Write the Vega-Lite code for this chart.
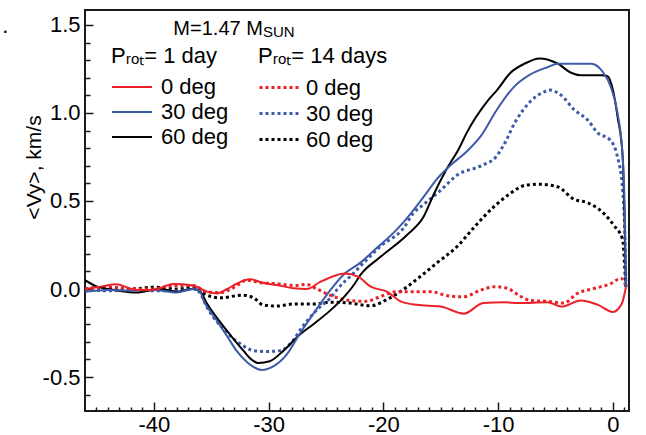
{
  "$schema": "https://vega.github.io/schema/vega-lite/v6.json",
  "width": 544,
  "height": 401,
  "autosize": "none",
  "padding": {"left": 85, "top": 10, "right": 17, "bottom": 24},
  "background": "white",
  "config": {
    "font": "Liberation Sans",
    "view": {"stroke": "#1a1a1a", "strokeWidth": 2},
    "axis": {"grid": false, "domain": false, "tickColor": "#1a1a1a", "tickWidth": 1.5, "labelColor": "#000", "labelFont": "Liberation Sans", "labelFontSize": 22, "titleFont": "Liberation Sans", "titleFontSize": 21, "titleColor": "#000", "titleFontWeight": "normal"},
    "legend": {"orient": "none", "labelFont": "Liberation Sans", "titleFont": "Liberation Sans", "labelFontSize": 22, "titleFontSize": 22, "titleFontWeight": "normal", "titleColor": "#000", "labelColor": "#000", "symbolType": "M-1,0H3", "symbolSize": 400, "rowPadding": 3, "titlePadding": 8, "padding": 0, "titleLimit": 400, "labelLimit": 300}
  },
  "datasets": {
    "solid": [
      {"a": "60 deg", "x": -46, "y": 0.05}, {"a": "60 deg", "x": -45, "y": 0.015}, {"a": "60 deg", "x": -43.5, "y": -0.005}, {"a": "60 deg", "x": -41.5, "y": -0.02}, {"a": "60 deg", "x": -39.5, "y": 0.0}, {"a": "60 deg", "x": -38, "y": -0.015}, {"a": "60 deg", "x": -36.6, "y": 0.0}, {"a": "60 deg", "x": -36, "y": -0.01}, {"a": "60 deg", "x": -35.4, "y": -0.08}, {"a": "60 deg", "x": -34.2, "y": -0.19}, {"a": "60 deg", "x": -33.1, "y": -0.28}, {"a": "60 deg", "x": -32.2, "y": -0.35}, {"a": "60 deg", "x": -31.5, "y": -0.4}, {"a": "60 deg", "x": -30.9, "y": -0.42}, {"a": "60 deg", "x": -29.9, "y": -0.41}, {"a": "60 deg", "x": -28.7, "y": -0.35}, {"a": "60 deg", "x": -27.3, "y": -0.26}, {"a": "60 deg", "x": -26.1, "y": -0.2}, {"a": "60 deg", "x": -24.6, "y": -0.12}, {"a": "60 deg", "x": -23.5, "y": -0.05}, {"a": "60 deg", "x": -22.5, "y": 0.03}, {"a": "60 deg", "x": -22.0, "y": 0.08}, {"a": "60 deg", "x": -20.3, "y": 0.18}, {"a": "60 deg", "x": -17.9, "y": 0.31}, {"a": "60 deg", "x": -16.5, "y": 0.41}, {"a": "60 deg", "x": -15.6, "y": 0.54}, {"a": "60 deg", "x": -14.5, "y": 0.68}, {"a": "60 deg", "x": -13.4, "y": 0.8}, {"a": "60 deg", "x": -12.8, "y": 0.88}, {"a": "60 deg", "x": -10.9, "y": 1.07}, {"a": "60 deg", "x": -10.1, "y": 1.13}, {"a": "60 deg", "x": -8.9, "y": 1.23}, {"a": "60 deg", "x": -7.7, "y": 1.28}, {"a": "60 deg", "x": -6.4, "y": 1.31}, {"a": "60 deg", "x": -4.8, "y": 1.28}, {"a": "60 deg", "x": -3.7, "y": 1.23}, {"a": "60 deg", "x": -2.8, "y": 1.215}, {"a": "60 deg", "x": -1.0, "y": 1.215}, {"a": "60 deg", "x": -0.5, "y": 1.21}, {"a": "60 deg", "x": 0.0, "y": 1.13}, {"a": "60 deg", "x": 0.4, "y": 0.98}, {"a": "60 deg", "x": 0.85, "y": 0.75}, {"a": "60 deg", "x": 1.05, "y": 0.28}, {"a": "60 deg", "x": 1.13, "y": 0.01},
      {"a": "30 deg", "x": -46, "y": -0.015}, {"a": "30 deg", "x": -44, "y": -0.005}, {"a": "30 deg", "x": -42, "y": -0.01}, {"a": "30 deg", "x": -40, "y": -0.005}, {"a": "30 deg", "x": -38, "y": -0.02}, {"a": "30 deg", "x": -36.6, "y": 0.0}, {"a": "30 deg", "x": -36, "y": -0.01}, {"a": "30 deg", "x": -35.7, "y": -0.06}, {"a": "30 deg", "x": -34.5, "y": -0.18}, {"a": "30 deg", "x": -33.6, "y": -0.27}, {"a": "30 deg", "x": -32.8, "y": -0.35}, {"a": "30 deg", "x": -31.8, "y": -0.42}, {"a": "30 deg", "x": -30.6, "y": -0.46}, {"a": "30 deg", "x": -29.6, "y": -0.44}, {"a": "30 deg", "x": -28.4, "y": -0.37}, {"a": "30 deg", "x": -27.25, "y": -0.25}, {"a": "30 deg", "x": -26.1, "y": -0.14}, {"a": "30 deg", "x": -24.9, "y": -0.03}, {"a": "30 deg", "x": -23.5, "y": 0.08}, {"a": "30 deg", "x": -22.0, "y": 0.15}, {"a": "30 deg", "x": -20.8, "y": 0.22}, {"a": "30 deg", "x": -18.8, "y": 0.34}, {"a": "30 deg", "x": -17.6, "y": 0.43}, {"a": "30 deg", "x": -16.3, "y": 0.54}, {"a": "30 deg", "x": -15.4, "y": 0.62}, {"a": "30 deg", "x": -14.2, "y": 0.7}, {"a": "30 deg", "x": -12.6, "y": 0.79}, {"a": "30 deg", "x": -11.5, "y": 0.87}, {"a": "30 deg", "x": -10.1, "y": 1.02}, {"a": "30 deg", "x": -8.6, "y": 1.15}, {"a": "30 deg", "x": -7.3, "y": 1.215}, {"a": "30 deg", "x": -5.7, "y": 1.26}, {"a": "30 deg", "x": -4.8, "y": 1.28}, {"a": "30 deg", "x": -3.4, "y": 1.28}, {"a": "30 deg", "x": -1.9, "y": 1.28}, {"a": "30 deg", "x": -0.9, "y": 1.235}, {"a": "30 deg", "x": -0.2, "y": 1.15}, {"a": "30 deg", "x": 0.4, "y": 1.0}, {"a": "30 deg", "x": 0.85, "y": 0.75}, {"a": "30 deg", "x": 1.05, "y": 0.37}, {"a": "30 deg", "x": 1.13, "y": 0.01},
      {"a": "0 deg", "x": -46, "y": 0.0}, {"a": "0 deg", "x": -44.5, "y": 0.015}, {"a": "0 deg", "x": -43.3, "y": 0.027}, {"a": "0 deg", "x": -41.5, "y": -0.005}, {"a": "0 deg", "x": -40.1, "y": -0.005}, {"a": "0 deg", "x": -38.3, "y": 0.028}, {"a": "0 deg", "x": -36.6, "y": 0.02}, {"a": "0 deg", "x": -35.4, "y": -0.015}, {"a": "0 deg", "x": -34.5, "y": -0.025}, {"a": "0 deg", "x": -33.6, "y": 0.0}, {"a": "0 deg", "x": -32.8, "y": 0.03}, {"a": "0 deg", "x": -31.6, "y": 0.055}, {"a": "0 deg", "x": -30.5, "y": 0.035}, {"a": "0 deg", "x": -29.3, "y": 0.023}, {"a": "0 deg", "x": -27.8, "y": 0.004}, {"a": "0 deg", "x": -26.7, "y": 0.0}, {"a": "0 deg", "x": -25.5, "y": 0.04}, {"a": "0 deg", "x": -24.3, "y": 0.074}, {"a": "0 deg", "x": -23.4, "y": 0.088}, {"a": "0 deg", "x": -22.2, "y": 0.07}, {"a": "0 deg", "x": -21.1, "y": 0.013}, {"a": "0 deg", "x": -19.7, "y": -0.015}, {"a": "0 deg", "x": -18.5, "y": -0.07}, {"a": "0 deg", "x": -17.1, "y": -0.09}, {"a": "0 deg", "x": -15.0, "y": -0.1}, {"a": "0 deg", "x": -13.0, "y": -0.14}, {"a": "0 deg", "x": -11.3, "y": -0.08}, {"a": "0 deg", "x": -9.5, "y": -0.075}, {"a": "0 deg", "x": -8.2, "y": -0.08}, {"a": "0 deg", "x": -5.7, "y": -0.075}, {"a": "0 deg", "x": -4.5, "y": -0.1}, {"a": "0 deg", "x": -2.8, "y": -0.065}, {"a": "0 deg", "x": -1.3, "y": -0.09}, {"a": "0 deg", "x": 0.0, "y": -0.13}, {"a": "0 deg", "x": 0.5, "y": -0.11}, {"a": "0 deg", "x": 0.85, "y": -0.07}, {"a": "0 deg", "x": 1.13, "y": 0.01}
    ],
    "dotted": [
      {"b": "60", "x": -46, "y": 0.0}, {"b": "60", "x": -44, "y": 0.01}, {"b": "60", "x": -42, "y": 0.0}, {"b": "60", "x": -40, "y": 0.01}, {"b": "60", "x": -38, "y": 0.0}, {"b": "60", "x": -36.5, "y": 0.01}, {"b": "60", "x": -35.7, "y": -0.025}, {"b": "60", "x": -34.2, "y": -0.05}, {"b": "60", "x": -32.3, "y": -0.035}, {"b": "60", "x": -31.3, "y": -0.05}, {"b": "60", "x": -30.5, "y": -0.09}, {"b": "60", "x": -29.3, "y": -0.097}, {"b": "60", "x": -27.8, "y": -0.085}, {"b": "60", "x": -26.0, "y": -0.085}, {"b": "60", "x": -24.6, "y": -0.075}, {"b": "60", "x": -22.9, "y": -0.08}, {"b": "60", "x": -21.1, "y": -0.095}, {"b": "60", "x": -19.7, "y": -0.06}, {"b": "60", "x": -18.2, "y": 0.0}, {"b": "60", "x": -16.8, "y": 0.07}, {"b": "60", "x": -15.3, "y": 0.15}, {"b": "60", "x": -13.6, "y": 0.24}, {"b": "60", "x": -12.1, "y": 0.35}, {"b": "60", "x": -10.5, "y": 0.46}, {"b": "60", "x": -9.0, "y": 0.54}, {"b": "60", "x": -7.6, "y": 0.59}, {"b": "60", "x": -6.3, "y": 0.595}, {"b": "60", "x": -4.8, "y": 0.58}, {"b": "60", "x": -3.4, "y": 0.51}, {"b": "60", "x": -2.2, "y": 0.49}, {"b": "60", "x": -0.8, "y": 0.43}, {"b": "60", "x": 0.1, "y": 0.36}, {"b": "60", "x": 0.85, "y": 0.28}, {"b": "60", "x": 1.05, "y": 0.1}, {"b": "60", "x": 1.13, "y": 0.01},
      {"b": "30", "x": -46, "y": 0.0}, {"b": "30", "x": -44, "y": -0.01}, {"b": "30", "x": -42, "y": 0.0}, {"b": "30", "x": -40, "y": -0.01}, {"b": "30", "x": -38, "y": -0.01}, {"b": "30", "x": -36.5, "y": 0.0}, {"b": "30", "x": -36, "y": -0.02}, {"b": "30", "x": -35.4, "y": -0.1}, {"b": "30", "x": -33.9, "y": -0.23}, {"b": "30", "x": -32.5, "y": -0.31}, {"b": "30", "x": -31.3, "y": -0.35}, {"b": "30", "x": -30.2, "y": -0.355}, {"b": "30", "x": -29.0, "y": -0.35}, {"b": "30", "x": -28.1, "y": -0.31}, {"b": "30", "x": -27.0, "y": -0.21}, {"b": "30", "x": -25.5, "y": -0.1}, {"b": "30", "x": -24.6, "y": -0.05}, {"b": "30", "x": -24.0, "y": 0.0}, {"b": "30", "x": -22.6, "y": 0.09}, {"b": "30", "x": -22.0, "y": 0.13}, {"b": "30", "x": -20.3, "y": 0.24}, {"b": "30", "x": -18.2, "y": 0.35}, {"b": "30", "x": -17.4, "y": 0.43}, {"b": "30", "x": -16.5, "y": 0.48}, {"b": "30", "x": -15.2, "y": 0.55}, {"b": "30", "x": -13.5, "y": 0.65}, {"b": "30", "x": -11.5, "y": 0.7}, {"b": "30", "x": -10.2, "y": 0.75}, {"b": "30", "x": -9.5, "y": 0.82}, {"b": "30", "x": -8.5, "y": 0.95}, {"b": "30", "x": -7.2, "y": 1.065}, {"b": "30", "x": -6.0, "y": 1.12}, {"b": "30", "x": -5.5, "y": 1.13}, {"b": "30", "x": -4.5, "y": 1.1}, {"b": "30", "x": -3.4, "y": 1.02}, {"b": "30", "x": -2.2, "y": 0.96}, {"b": "30", "x": -1.3, "y": 0.885}, {"b": "30", "x": -0.3, "y": 0.85}, {"b": "30", "x": 0.4, "y": 0.75}, {"b": "30", "x": 0.85, "y": 0.56}, {"b": "30", "x": 1.05, "y": 0.28}, {"b": "30", "x": 1.13, "y": 0.01},
      {"b": "0", "x": -46, "y": 0.0}, {"b": "0", "x": -44, "y": 0.01}, {"b": "0", "x": -42, "y": 0.0}, {"b": "0", "x": -40, "y": 0.0}, {"b": "0", "x": -38.3, "y": 0.02}, {"b": "0", "x": -36.6, "y": 0.02}, {"b": "0", "x": -35.4, "y": -0.015}, {"b": "0", "x": -34.2, "y": -0.02}, {"b": "0", "x": -33.1, "y": 0.006}, {"b": "0", "x": -31.9, "y": 0.05}, {"b": "0", "x": -30.7, "y": 0.035}, {"b": "0", "x": -29.3, "y": 0.03}, {"b": "0", "x": -27.8, "y": 0.02}, {"b": "0", "x": -26.7, "y": 0.026}, {"b": "0", "x": -25.8, "y": 0.0}, {"b": "0", "x": -24.3, "y": -0.044}, {"b": "0", "x": -23.0, "y": -0.065}, {"b": "0", "x": -21.5, "y": -0.07}, {"b": "0", "x": -20.3, "y": -0.044}, {"b": "0", "x": -18.8, "y": -0.015}, {"b": "0", "x": -17.1, "y": -0.015}, {"b": "0", "x": -15.9, "y": -0.015}, {"b": "0", "x": -14.4, "y": -0.038}, {"b": "0", "x": -13.0, "y": -0.044}, {"b": "0", "x": -11.5, "y": -0.006}, {"b": "0", "x": -10.3, "y": 0.013}, {"b": "0", "x": -9.2, "y": 0.004}, {"b": "0", "x": -8.0, "y": -0.044}, {"b": "0", "x": -7.2, "y": -0.065}, {"b": "0", "x": -5.7, "y": -0.07}, {"b": "0", "x": -4.3, "y": -0.08}, {"b": "0", "x": -3.1, "y": -0.025}, {"b": "0", "x": -1.6, "y": 0.004}, {"b": "0", "x": -0.2, "y": 0.03}, {"b": "0", "x": 0.7, "y": 0.06}, {"b": "0", "x": 1.0, "y": 0.04}, {"b": "0", "x": 1.13, "y": 0.01}
    ]
  },
  "layer": [
    {
      "data": {"name": "dotted"},
      "mark": {"type": "line", "strokeDash": [3, 3], "strokeWidth": 3, "strokeCap": "butt", "interpolate": "monotone", "clip": true},
      "encoding": {
        "x": {"field": "x", "type": "quantitative", "scale": {"domain": [-46, 1.4], "nice": false, "zero": false},
              "axis": {"orient": "bottom", "values": [-45, -44, -43, -42, -41, -39, -38, -37, -36, -35, -34, -33, -32, -31, -29, -28, -27, -26, -25, -24, -23, -22, -21, -19, -18, -17, -16, -15, -14, -13, -12, -11, -9, -8, -7, -6, -5, -4, -3, -2, -1, 1], "tickSize": -4, "labels": false, "title": null}},
        "y": {"field": "y", "type": "quantitative", "scale": {"domain": [-0.693, 1.585], "nice": false, "zero": false},
              "axis": {"orient": "left", "values": [-0.6, -0.4, -0.3, -0.2, -0.1, 0.1, 0.2, 0.3, 0.4, 0.6, 0.7, 0.8, 0.9, 1.1, 1.2, 1.3, 1.4], "tickSize": -5, "labels": false, "title": null}},
        "stroke": {"field": "b", "type": "nominal",
                   "scale": {"domain": ["0", "30", "60"], "range": ["#ec2027", "#3d5ba9", "#000000"]},
                   "legend": {"title": "Pᵣₒₜ= 14 days", "legendX": 173, "legendY": 36, "symbolStrokeWidth": 3, "symbolDash": [3, 3], "labelOffset": 25, "labelExpr": "datum.label + ' deg'"}}
      }
    },
    {
      "data": {"name": "solid"},
      "mark": {"type": "line", "strokeWidth": 2, "interpolate": "monotone", "clip": true},
      "encoding": {
        "x": {"field": "x", "type": "quantitative",
              "axis": {"orient": "bottom", "values": [-40, -30, -20, -10, 0], "tickSize": -9, "labelPadding": 12, "labelExpr": "replace(datum.label, '−', '-')", "title": null}},
        "y": {"field": "y", "type": "quantitative",
              "axis": {"orient": "left", "values": [-0.5, 0, 0.5, 1, 1.5], "format": ".1f", "labelExpr": "replace(datum.label, '−', '-')", "tickSize": -8, "labelPadding": 13, "title": "<Vy>, km/s", "titleBaseline": "middle", "titleAngle": -90, "titleX": -51, "titleY": 157}},
        "color": {"field": "a", "type": "nominal",
                  "scale": {"domain": ["0 deg", "30 deg", "60 deg"], "range": ["#ec2027", "#3d5ba9", "#000000"]},
                  "legend": {"title": "Pᵣₒₜ= 1 day", "legendX": 26, "legendY": 36, "symbolStrokeWidth": 2, "labelOffset": 28}}
      }
    },
    {
      "data": {"values": [{"t": "M=1.47 M"}]},
      "mark": {"type": "text", "align": "left", "baseline": "alphabetic", "fontSize": 20, "font": "Liberation Sans", "color": "#000"},
      "encoding": {"x": {"datum": -38.3, "type": "quantitative", "axis": null}, "y": {"datum": 1.443, "type": "quantitative", "axis": null}, "text": {"field": "t"}}
    },
    {
      "data": {"values": [{"t": "SUN"}]},
      "mark": {"type": "text", "align": "left", "baseline": "alphabetic", "fontSize": 15, "font": "Liberation Sans", "color": "#000"},
      "encoding": {"x": {"datum": -30.5, "type": "quantitative", "axis": null}, "y": {"datum": 1.432, "type": "quantitative", "axis": null}, "text": {"field": "t"}}
    },
    {
      "data": {"values": [{"t": "."}]},
      "mark": {"type": "text", "align": "left", "baseline": "alphabetic", "fontSize": 22, "font": "Liberation Sans", "color": "#000"},
      "encoding": {"x": {"datum": -53.2, "type": "quantitative", "axis": null}, "y": {"datum": 1.455, "type": "quantitative", "axis": null}, "text": {"field": "t"}}
    }
  ],
  "resolve": {"axis": {"x": "independent", "y": "independent"}}
}
